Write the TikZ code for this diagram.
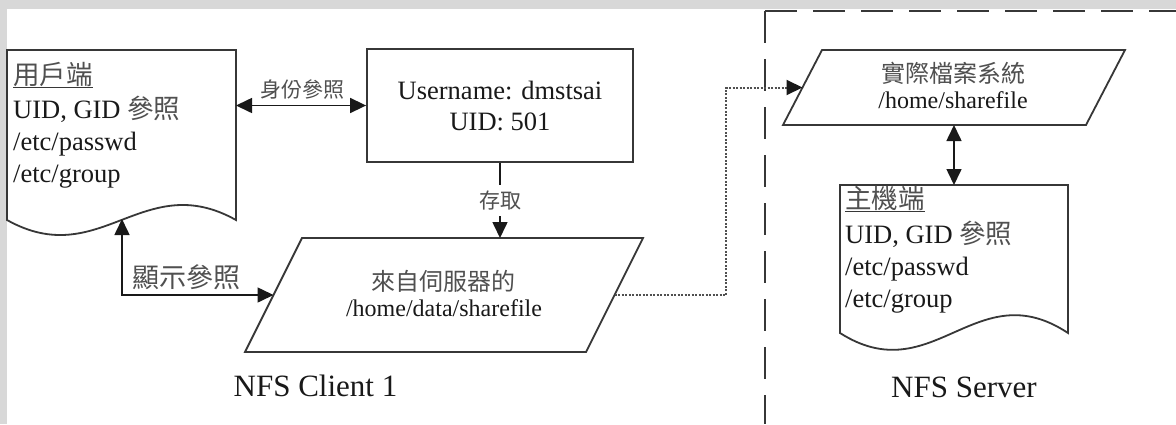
\documentclass[tikz,border=0pt]{standalone}
\usepackage{fontspec}
\setmainfont{Liberation Serif}
\newfontfamily\cjk{Noto Sans CJK TC}
\usetikzlibrary{arrows.meta,calc}
\definecolor{bggray}{RGB}{216,216,216}
\definecolor{ink}{RGB}{25,25,25}
\definecolor{cjkink}{RGB}{80,80,80}
\definecolor{edge}{RGB}{55,55,55}
\definecolor{dotink}{RGB}{80,80,80}
\newcommand\zh[1]{{\color{cjkink}\cjk #1}}
\newcommand\myul[1]{\setbox0=\hbox{#1}\rlap{\color{edge}\rule[-4pt]{\wd0}{1.4pt}}\box0}
\tikzset{
  shp/.style={draw=edge, line width=1.8pt, fill=white},
  conn/.style={draw=ink, line width=1.6pt},
  tip/.style={-{Triangle[length=16pt,width=15pt]}},
  dbl/.style={{Triangle[length=16pt,width=15pt]}-{Triangle[length=16pt,width=15pt]}},
  dotline/.style={draw=dotink, line width=2pt, dash pattern=on 2pt off 1.5pt,
    -{Triangle[length=16pt,width=15pt,color=ink]}},
  region/.style={draw=edge, line width=2pt, dash pattern=on 32pt off 16pt},
  txt/.style={inner sep=0pt, text=ink, font=\fontsize{26.5}{32}\selectfont},
  txtm/.style={inner sep=0pt, text=ink, font=\fontsize{24}{27}\selectfont},
  lblS/.style={inner sep=0pt, font=\fontsize{21}{24}\selectfont},
  lblL/.style={inner sep=0pt, font=\fontsize{27}{30}\selectfont},
  title/.style={inner sep=0pt, text=ink, font=\fontsize{31}{36}\selectfont, anchor=base},
  anchorbox/.style={inner sep=0pt, outer sep=0pt}
}
\begin{document}
\begin{tikzpicture}[x=1pt,y=-1pt]
\fill[bggray] (0,0) rectangle (1176,424);
\fill[white] (7,9) rectangle (1176,424);
\useasboundingbox (0,0) rectangle (1176,424);

% server region
\draw[region] (765,11) -- (765,424);
\draw[region] (765,11) -- (1176,11);

% client document
\node[anchorbox, anchor=north west, minimum width=229, minimum height=170] (doc1) at (7,50) {};
\draw[shp] (doc1.north west) -- (doc1.north east) -- (doc1.south east)
  .. controls (143,168) and (100,272) .. (doc1.south west) -- cycle;
\node[txt, anchor=base west] (d1a) at (13,84) {\zh{\myul{用戶端}}};
\node[txt, anchor=base west] (d1b) at (13,118) {UID, GID \zh{參照}};
\node[txt, anchor=base west] (d1c) at (13,150) {/etc/passwd};
\node[txt, anchor=base west] (d1d) at (13,182) {/etc/group};

% user box
\node[shp, txt, minimum width=266, minimum height=113, align=center,
      font=\fontsize{26.5}{31}\selectfont] (box) at (500,105.5) {Username: dmstsai\\UID: 501};

% client parallelogram
\node[anchorbox, minimum width=398, minimum height=114] (p1) at (444,295) {};
\draw[shp] ($(p1.north west)+(57,0)$) -- (p1.north east) -- ($(p1.south east)-(57,0)$)
  -- (p1.south west) -- cycle;
\node[txtm] (p1a) at (443.5,281) {\zh{來自伺服器的}};
\node[txtm, anchor=base] (p1b) at (444,316) {/home/data/sharefile};
\coordinate (p1L) at ($(p1.west)+(28.5,0)$);
\coordinate (p1R) at ($(p1.east)-(28.5,0)$);

% server parallelogram
\node[anchorbox, minimum width=342, minimum height=75] (p2) at (954,87.5) {};
\draw[shp] ($(p2.north west)+(39,0)$) -- (p2.north east) -- ($(p2.south east)-(39,0)$)
  -- (p2.south west) -- cycle;
\node[txtm] (p2a) at (953,73) {\zh{實際檔案系統}};
\node[txtm, anchor=base] (p2b) at (953,108) {/home/sharefile};
\coordinate (p2L) at ($(p2.west)+(19.5,0)$);

% server document
\node[anchorbox, anchor=north west, minimum width=228, minimum height=148] (doc2) at (840,185) {};
\draw[shp] (doc2.north west) -- (doc2.north east) -- (doc2.south east)
  .. controls (976,272) and (933,392) .. (doc2.south west) -- cycle;
\node[txt, anchor=base west] (d2a) at (845,208) {\zh{\myul{主機端}}};
\node[txt, anchor=base west] (d2b) at (845,243) {UID, GID \zh{參照}};
\node[txt, anchor=base west] (d2c) at (845,275) {/etc/passwd};
\node[txt, anchor=base west] (d2d) at (845,307) {/etc/group};

% connectors
\draw[conn, dbl] (box.west -| doc1.east) -- (box.west);
\node[lblS] (l1) at (302,90) {\zh{身份參照}};

\draw[conn, tip] (box.south) -- (box.south |- p1.north)
  node[midway, fill=white, inner xsep=1pt, inner ysep=6pt, font=\fontsize{21}{24}\selectfont] (l2) {\zh{存取}};

\coordinate (d1w) at (122,219);
\draw[conn, dbl] (d1w) |- (p1L);
\node[lblL] (l3) at (186,277) {\zh{顯示參照}};

\coordinate (via) at (726,200);
\draw[dotline] (p1R) -| (via) |- (p2L);

\draw[conn, dbl] (p2.south) -- (doc2.north);

% titles
\node[title] (c1) at (315.5,396) {NFS Client 1};
\node[title] (s1) at (964,397) {NFS Server};
\end{tikzpicture}
\end{document}
